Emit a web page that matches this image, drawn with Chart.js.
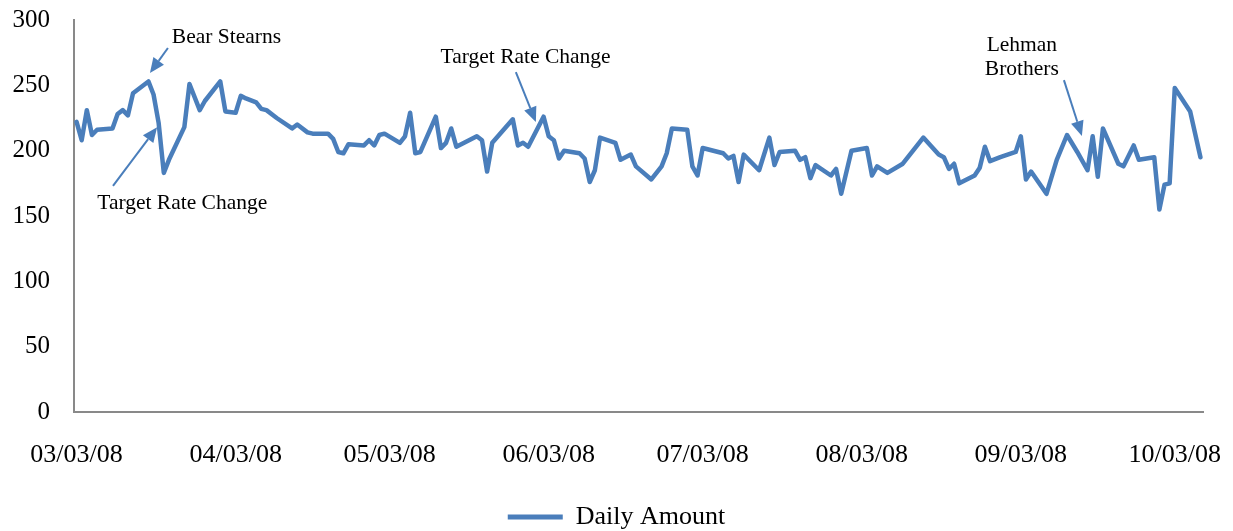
<!DOCTYPE html>
<html>
<head>
<meta charset="utf-8">
<script src="https://cdn.jsdelivr.net/npm/chart.js@4/dist/chart.umd.min.js"></script>
<style>
  body { margin: 0; background: #fff; }
  #wrap { width: 1233px; height: 531px; }
</style>
</head>
<body>
<div id="wrap"><canvas id="amountChart"></canvas></div>
<script>
// days since 03/03/08 (business days only)
const dayOffsets = [
  0, 1, 2, 3, 4, 7, 8, 9, 10, 11, 14, 15, 16, 17, 18, 21, 22, 24, 25, 28,
  29, 31, 32, 33, 35, 36, 37, 39, 42, 43, 45, 46, 49, 50, 51, 52, 53, 56, 57, 58,
  59, 60, 63, 64, 65, 66, 67, 70, 71, 72, 73, 74, 78, 79, 80, 81, 85, 86, 87, 88,
  91, 92, 93, 94, 95, 98, 99, 100, 101, 102, 105, 106, 108, 109, 112, 114, 115, 116, 119, 120,
  121, 122, 126, 127, 128, 129, 130, 133, 135, 136, 137, 140, 141, 142, 143, 144, 147, 148, 149, 151,
  154, 155, 156, 158, 161, 165, 168, 169, 170, 171, 172, 175, 176, 177, 178, 180, 183, 184, 185, 186,
  189, 191, 193, 195, 197, 198, 199, 200, 203, 204, 206, 207, 210, 211, 212, 213, 214, 217, 219
];
const dailyAmount = [
  222, 208, 231, 212, 216, 217, 228, 231, 227, 244, 253, 243, 221, 183, 193, 218, 251, 231, 238, 253,
  230, 229, 242, 240, 237, 232, 231, 225, 217, 220, 214, 213, 213, 209, 199, 198, 205, 204, 208, 204,
  212, 213, 206, 211, 229, 198, 199, 226, 202, 206, 217, 203, 211, 208, 184, 206, 224, 204, 206, 203,
  226, 211, 208, 194, 200, 198, 194, 176, 185, 210, 206, 193, 197, 188, 178, 188, 198, 217, 216, 188,
  181, 202, 198, 194, 196, 176, 197, 185, 210, 189, 199, 200, 193, 195, 179, 189, 181, 186, 167, 200,
  202, 181, 188, 183, 190, 210, 197, 195, 186, 190, 175, 181, 187, 203, 192, 195, 199, 211, 178, 184,
  167, 193, 212, 199, 185, 211, 180, 217, 190, 188, 204, 193, 195, 155, 174, 175, 248, 230, 195
];
const xTickLabels = ["03/03/08", "04/03/08", "05/03/08", "06/03/08", "07/03/08", "08/03/08", "09/03/08", "10/03/08"];
const yTicks = [0, 50, 100, 150, 200, 250, 300];
const seriesName = "Daily Amount";

// notes: text anchor and arrow in data units (day, value)
const notes = [
  { lines: ["Bear Stearns"], at: [29.2, 287], from: [17.8, 278.6], to: [14.3, 259.4] },
  { lines: ["Target Rate Change"], at: [20.6, 160], from: [7.1, 173], to: [15.7, 218] },
  { lines: ["Target Rate Change"], at: [87.5, 271.7], from: [85.6, 260.2], to: [89.5, 221.9] },
  { lines: ["Lehman", "Brothers"], at: [184.2, 271.7], from: [192.4, 254], to: [195.9, 211.2] }
];

const blue = "#4a7ebb";
const axisGray = "#898989";
const serif = "'Liberation Serif', 'Times New Roman', serif";
const start = new Date(2008, 2, 3);

function labelToDay(s) {
  const [m, d, y] = s.split("/").map(Number);
  return Math.round((new Date(2000 + y, m - 1, d) - start) / 86400000);
}
function dayToLabel(v) {
  const d = new Date(2008, 2, 3 + v);
  const p = n => String(n).padStart(2, "0");
  return p(d.getMonth() + 1) + "/" + p(d.getDate()) + "/" + p(d.getFullYear() % 100);
}
const xTickDays = xTickLabels.map(labelToDay);

function drawArrow(ctx, x1, y1, x2, y2) {
  const ang = Math.atan2(y2 - y1, x2 - x1);
  const head = 15, half = 6.5;
  const bx = x2 - head * Math.cos(ang), by = y2 - head * Math.sin(ang);
  ctx.beginPath();
  ctx.moveTo(x1, y1);
  ctx.lineTo(bx, by);
  ctx.stroke();
  ctx.beginPath();
  ctx.moveTo(x2, y2);
  ctx.lineTo(bx + half * Math.sin(ang), by - half * Math.cos(ang));
  ctx.lineTo(bx - half * Math.sin(ang), by + half * Math.cos(ang));
  ctx.closePath();
  ctx.fill();
}

const notePlugin = {
  id: "notes",
  afterDatasetsDraw(chart) {
    const { ctx, scales: { x, y } } = chart;
    ctx.save();
    ctx.font = "21.5px " + serif;
    ctx.fillStyle = "#000";
    ctx.textAlign = "center";
    ctx.textBaseline = "middle";
    notes.forEach(n => {
      const cx = x.getPixelForValue(n.at[0]);
      const cy = y.getPixelForValue(n.at[1]);
      const lh = 24;
      n.lines.forEach((t, i) => {
        ctx.fillText(t, cx, cy + (i - (n.lines.length - 1) / 2) * lh);
      });
    });
    ctx.strokeStyle = blue;
    ctx.fillStyle = blue;
    ctx.lineWidth = 2;
    notes.forEach(n => {
      drawArrow(ctx,
        x.getPixelForValue(n.from[0]), y.getPixelForValue(n.from[1]),
        x.getPixelForValue(n.to[0]), y.getPixelForValue(n.to[1]));
    });
    ctx.restore();
  }
};

const points = dayOffsets.map((d, i) => ({ x: d, y: dailyAmount[i] }));

new Chart(document.getElementById("amountChart"), {
  type: "line",
  data: {
    datasets: [{
      label: seriesName,
      data: points,
      borderColor: blue,
      backgroundColor: blue,
      borderWidth: 4.5,
      pointRadius: 0,
      tension: 0,
      borderJoinStyle: "round",
      borderCapStyle: "round"
    }]
  },
  options: {
    responsive: true,
    maintainAspectRatio: false,
    animation: false,
    layout: { padding: { top: 20, right: 0, left: 0, bottom: -9 } },
    scales: {
      x: {
        type: "linear",
        min: -0.5,
        max: dayOffsets[dayOffsets.length - 1] + 0.5,
        afterBuildTicks: s => { s.ticks = xTickDays.map(v => ({ value: v })); },
        afterFit: s => { s.height = 90; s.paddingLeft = 0; s.paddingRight = 30; },
        grid: { color: "transparent", drawTicks: false },
        border: { color: axisGray, width: 2 },
        ticks: {
          autoSkip: false,
          maxRotation: 0,
          padding: 28,
          color: "#000",
          font: { family: serif, size: 26 },
          callback: v => dayToLabel(v)
        }
      },
      y: {
        min: 0,
        max: 300,
        afterBuildTicks: s => { s.ticks = yTicks.map(v => ({ value: v })); },
        afterFit: s => { s.width = 74; s.paddingTop = 0; s.paddingBottom = 0; },
        grid: { color: "transparent", drawTicks: false },
        border: { color: axisGray, width: 2 },
        ticks: {
          padding: 24,
          color: "#000",
          font: { family: serif, size: 25 }
        }
      }
    },
    plugins: {
      tooltip: { enabled: false },
      legend: {
        position: "bottom",
        labels: {
          color: "#000",
          font: { family: serif, size: 26 },
          boxWidth: 55,
          boxHeight: 5,
          padding: 2,
          generateLabels: chart =>
            Chart.defaults.plugins.legend.labels.generateLabels(chart)
              .map(l => ({ ...l, fillStyle: blue, lineWidth: 0 }))
        }
      }
    }
  },
  plugins: [notePlugin]
});
</script>
</body>
</html>
